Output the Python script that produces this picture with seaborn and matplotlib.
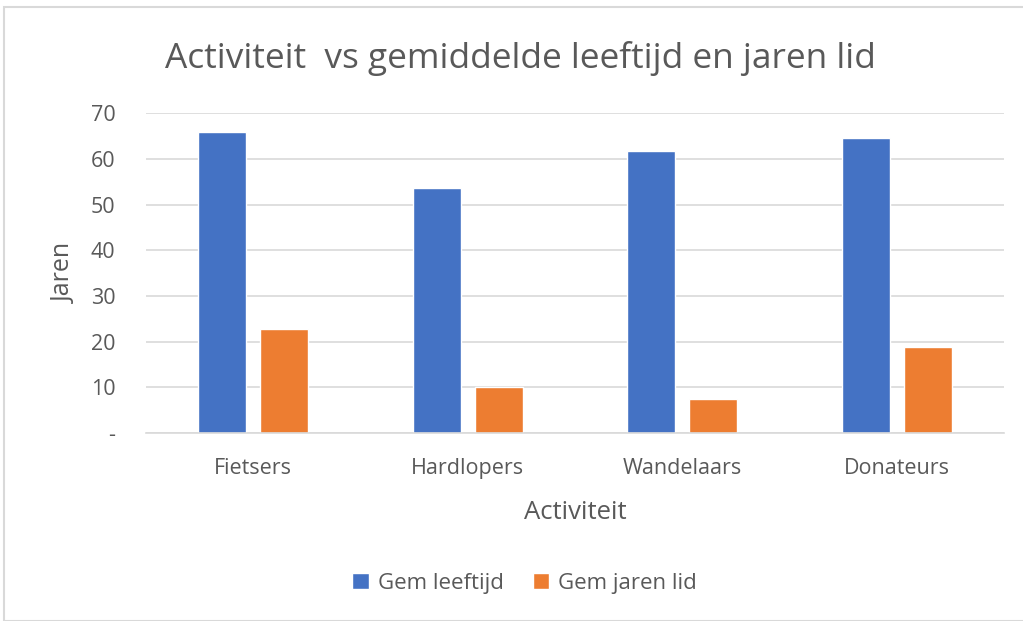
import matplotlib
matplotlib.use("Agg")
import matplotlib.pyplot as plt
import seaborn as sns
import pandas as pd
from matplotlib.patches import Rectangle

categories = ["Fietsers", "Hardlopers", "Wandelaars", "Donateurs"]
gem_leeftijd = [66.0, 53.7, 61.8, 64.5]
gem_jaren_lid = [22.8, 10.1, 7.4, 18.8]
series_names = ["Gem leeftijd", "Gem jaren lid"]
y_ticks = [0, 10, 20, 30, 40, 50, 60, 70]
y_tick_labels = ["-", "10", "20", "30", "40", "50", "60", "70"]

df = pd.DataFrame({
    "Activiteit": categories * 2,
    "Jaren": gem_leeftijd + gem_jaren_lid,
    "Serie": [series_names[0]] * 4 + [series_names[1]] * 4,
})

sns.set_theme(style="white")
plt.rcParams["font.family"] = ["Open Sans", "DejaVu Sans"]
txt = "#595959"

fig = plt.figure(figsize=(10.23, 6.21), dpi=100)
ax = fig.add_axes([0.1427, 0.3027, 0.8387, 0.5149])

sns.barplot(data=df, x="Activiteit", y="Jaren", hue="Serie",
            palette=["#4472C4", "#ED7D31"], width=0.576, gap=0.222,
            ax=ax, legend=True, saturation=1)

ax.set_xlim(-0.5, 3.5)
ax.set_ylim(0, 70)
ax.set_yticks(y_ticks)
ax.set_yticklabels(y_tick_labels)
ax.yaxis.grid(True, color="#D9D9D9", linewidth=1.2)
ax.set_axisbelow(True)
for s in ["top", "right", "left"]:
    ax.spines[s].set_visible(False)
ax.spines["bottom"].set_color("#D9D9D9")
ax.spines["bottom"].set_linewidth(1.2)
ax.tick_params(axis="both", length=0, labelsize=15.5, colors=txt)
ax.tick_params(axis="y", pad=22)
ax.tick_params(axis="x", pad=18)

ax.set_xlabel("Activiteit", fontsize=18.5, color=txt, labelpad=15)
ax.set_ylabel("Jaren", fontsize=18, color=txt, labelpad=10)

fig.text(0.509, 0.906, "Activiteit  vs gemiddelde leeftijd en jaren lid",
         ha="center", va="center", fontsize=25.4, color=txt)

leg = ax.legend(loc="center", bbox_to_anchor=(0.513, 0.061), bbox_transform=fig.transFigure,
                ncol=2, frameon=False, fontsize=16, handlelength=0.75, handleheight=0.75,
                handletextpad=0.4, columnspacing=1.3)
for t in leg.get_texts():
    t.set_color(txt)

fig.patches.append(Rectangle((4 / 1023, 0), 1.1, 1 - 7 / 621, transform=fig.transFigure,
                             fill=False, edgecolor="#D9D9D9", linewidth=1.5))

fig.savefig("out.png", dpi=100)
